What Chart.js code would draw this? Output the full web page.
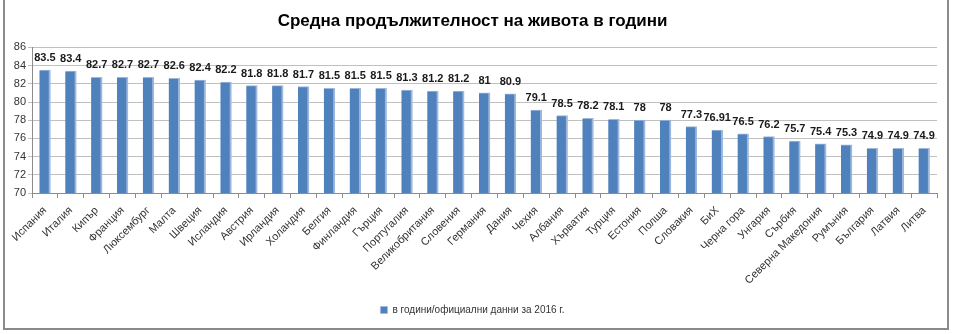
<!DOCTYPE html>
<html>
<head>
<meta charset="utf-8">
<script src="https://cdn.jsdelivr.net/npm/chart.js@4.4.1/dist/chart.umd.min.js"></script>
<style>
  html, body { margin: 0; padding: 0; background: #fff; }
  #wrap { position: relative; width: 953px; height: 334px; overflow: hidden; }
  #frame { position: absolute; left: 3px; top: -10px; width: 942px; height: 336px; border: 2px solid #8a8a8a; pointer-events: none; }
  canvas { position: absolute; left: 0; top: 0; }
</style>
</head>
<body>
<div id="wrap">
  <canvas id="c" width="953" height="334"></canvas>
  <div id="frame"></div>
</div>
<script>
const countries = ['Испания', 'Италия', 'Кипър', 'Франция', 'Люксембург', 'Малта', 'Швеция', 'Исландия',
  'Австрия', 'Ирландия', 'Холандия', 'Белгия', 'Финландия', 'Гърция', 'Португалия', 'Великобритания',
  'Словения', 'Германия', 'Дания', 'Чехия', 'Албания', 'Хърватия', 'Турция', 'Естония', 'Полша',
  'Словакия', 'БиХ', 'Черна гора', 'Унгария', 'Сърбия', 'Северна Македония', 'Румъния', 'България',
  'Латвия', 'Литва'];
const years = [83.5, 83.4, 82.7, 82.7, 82.7, 82.6, 82.4, 82.2, 81.8, 81.8, 81.7, 81.5, 81.5, 81.5, 81.3,
  81.2, 81.2, 81, 80.9, 79.1, 78.5, 78.2, 78.1, 78, 78, 77.3, 76.91, 76.5, 76.2, 75.7, 75.4, 75.3,
  74.9, 74.9, 74.9];
const seriesName = 'в години/официални данни за 2016 г.';
const titleText = 'Средна продължителност на живота в години';

const FONT = '"Liberation Sans", Arial, sans-serif';

// value labels above each bar
const valueLabels = {
  id: 'valueLabels',
  afterDatasetsDraw(chart) {
    const ctx = chart.ctx;
    const meta = chart.getDatasetMeta(0);
    ctx.save();
    ctx.font = 'bold 11px ' + FONT;
    ctx.fillStyle = '#1a1a1a';
    ctx.textAlign = 'center';
    ctx.textBaseline = 'middle';
    meta.data.forEach((bar, i) => {
      ctx.fillText(String(years[i]), bar.x, bar.y - 12);
    });
    ctx.restore();
  }
};

new Chart(document.getElementById('c'), {
  type: 'bar',
  data: {
    labels: countries,
    datasets: [{
      label: seriesName,
      data: years,
      backgroundColor: '#4f81bd',
      borderColor: '#9db8dc',
      borderWidth: { top: 1, right: 2, bottom: 0, left: 0 },
      borderSkipped: false,
      barThickness: 11
    }]
  },
  options: {
    responsive: false,
    animation: false,
    devicePixelRatio: 1,
    layout: { padding: { left: 8, right: 16, top: 0, bottom: 9 } },
    plugins: {
      title: {
        display: true,
        text: titleText,
        color: '#000',
        font: { family: FONT, size: 17, weight: 'bold' },
        padding: { top: 11, bottom: 16 }
      },
      legend: {
        position: 'bottom',
        labels: {
          color: '#333',
          font: { family: FONT, size: 10 },
          boxWidth: 7,
          boxHeight: 7,
          padding: 8
        }
      },
      tooltip: { enabled: false }
    },
    scales: {
      x: {
        afterFit: (s) => { s.height = 104; },
        grid: { display: true, drawOnChartArea: false, offset: true, tickLength: 5, color: '#8c8c8c' },
        border: { color: '#8c8c8c' },
        ticks: {
          autoSkip: false,
          maxRotation: 45,
          minRotation: 45,
          color: '#333',
          font: { family: FONT, size: 11 },
          padding: 6
        }
      },
      y: {
        min: 70,
        max: 86,
        afterFit: (s) => { s.width = 24; },
        grid: { color: '#c0c0c0', tickLength: 4 },
        border: { color: '#8c8c8c' },
        ticks: {
          stepSize: 2,
          color: '#333',
          font: { family: FONT, size: 11 },
          padding: 2
        }
      }
    }
  },
  plugins: [valueLabels]
});
</script>
</body>
</html>
